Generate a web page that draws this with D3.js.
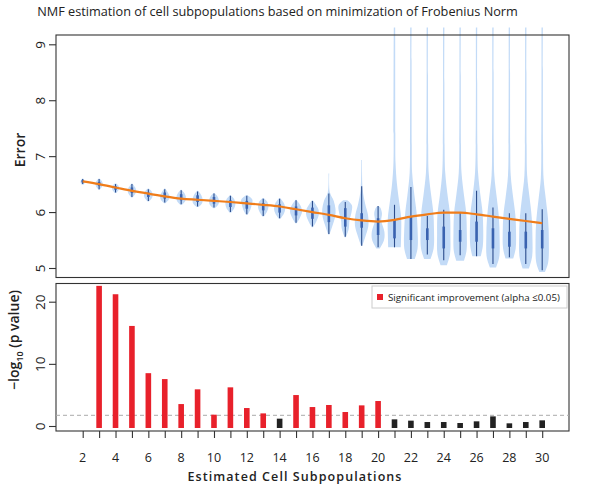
<!DOCTYPE html>
<html>
<head>
<meta charset="utf-8">
<script src="https://cdn.jsdelivr.net/npm/d3@7"></script>
<style>
  html, body { margin: 0; padding: 0; background: #fff; }
  svg { display: block; }
  text { font-family: "Open Sans", "Noto Sans", sans-serif; fill: #222; }
</style>
</head>
<body>
<svg id="chart" width="600" height="494"></svg>
<script>
// ---------------- DATA ----------------
const ks = [2,3,4,5,6,7,8,9,10,11,12,13,14,15,16,17,18,19,20,21,22,23,24,25,26,27,28,29,30];
const xTickLabels = [2,4,6,8,10,12,14,16,18,20,22,24,26,28,30];
const errorTicks = [5,6,7,8,9];
const pTicks = [0,10,20];

// Whisker ranges of error per k
const whiskerLo = [6.50,6.41,6.35,6.27,6.20,6.17,6.14,6.10,6.08,6.00,5.96,5.93,5.89,5.81,5.74,5.61,5.56,5.40,5.37,5.37,5.16,5.24,5.14,5.23,5.21,5.07,5.19,5.07,4.96];
const whiskerHi = [6.59,6.59,6.50,6.50,6.41,6.41,6.39,6.37,6.33,6.29,6.29,6.24,6.24,6.21,6.20,6.33,6.18,6.46,6.11,6.13,6.45,5.93,6.04,5.99,6.38,6.08,5.98,5.98,6.05];
// Interquartile boxes
const boxQ1 = [6.53,6.47,6.40,6.34,6.27,6.24,6.21,6.18,6.15,6.09,6.06,6.03,5.99,5.94,5.88,5.82,5.74,5.72,5.59,5.53,5.50,5.50,5.35,5.47,5.47,5.35,5.38,5.35,5.35];
const boxQ3 = [6.57,6.54,6.46,6.44,6.35,6.35,6.32,6.30,6.27,6.21,6.20,6.16,6.14,6.10,6.08,6.12,6.07,5.98,5.89,5.86,5.92,5.71,5.74,5.68,5.83,5.71,5.65,5.65,5.68];

// Violin outlines: [error value, relative half-width]
const violins = [
  [[6.49,0.10],[6.53,0.30],[6.57,0.25],[6.60,0.05]],
  [[6.40,0.10],[6.46,0.45],[6.52,0.50],[6.57,0.30],[6.60,0.05]],
  [[6.34,0.10],[6.40,0.45],[6.45,0.50],[6.49,0.30],[6.51,0.05]],
  [[6.26,0.10],[6.33,0.50],[6.40,0.60],[6.47,0.30],[6.51,0.05]],
  [[6.19,0.10],[6.26,0.55],[6.32,0.62],[6.38,0.40],[6.42,0.05]],
  [[6.16,0.10],[6.23,0.60],[6.30,0.65],[6.37,0.35],[6.42,0.05]],
  [[6.13,0.10],[6.20,0.60],[6.27,0.68],[6.34,0.45],[6.40,0.05]],
  [[6.09,0.10],[6.16,0.65],[6.24,0.70],[6.32,0.45],[6.38,0.05]],
  [[6.07,0.10],[6.13,0.60],[6.20,0.72],[6.28,0.50],[6.34,0.05]],
  [[5.99,0.10],[6.07,0.55],[6.15,0.72],[6.23,0.55],[6.30,0.05]],
  [[5.95,0.10],[6.04,0.50],[6.13,0.70],[6.22,0.80],[6.30,0.10]],
  [[5.92,0.10],[6.01,0.55],[6.10,0.75],[6.18,0.60],[6.25,0.05]],
  [[5.88,0.10],[5.97,0.60],[6.06,0.80],[6.15,0.65],[6.25,0.05]],
  [[5.80,0.10],[5.90,0.55],[6.00,0.85],[6.10,0.70],[6.22,0.05]],
  [[5.73,0.10],[5.83,0.55],[5.95,0.90],[6.05,0.85],[6.21,0.05]],
  [[5.60,0.10],[5.75,0.50],[5.92,0.90],[6.05,0.95],[6.20,0.70],[6.35,0.15],[6.69,0.05]],
  [[5.55,0.10],[5.70,0.50],[5.85,0.60],[6.00,0.90],[6.12,0.95],[6.21,0.30]],
  [[5.40,0.10],[5.55,0.50],[5.75,0.95],[5.95,0.90],[6.15,0.50],[6.40,0.15],[6.93,0.05]],
  [[5.35,0.25],[5.50,0.85],[5.65,0.90],[5.85,0.45],[5.98,0.55],[6.08,0.30],[6.11,0.05]],
  [[5.37,0.90],[5.60,0.95],[5.90,0.95],[6.20,0.65],[6.50,0.35],[6.88,0.15],[7.40,0.12],[9.30,0.10]],
  [[5.16,0.55],[5.35,0.95],[5.70,0.95],[6.00,0.80],[6.30,0.50],[6.70,0.18],[7.20,0.12],[9.30,0.10]],
  [[5.16,0.45],[5.35,0.90],[5.70,0.95],[6.00,0.85],[6.30,0.55],[6.70,0.20],[7.20,0.12],[9.30,0.10]],
  [[5.05,0.45],[5.25,0.90],[5.60,0.95],[5.95,0.90],[6.30,0.55],[6.70,0.22],[7.20,0.12],[9.30,0.10]],
  [[5.13,0.55],[5.30,0.90],[5.65,0.95],[6.00,0.85],[6.30,0.55],[6.70,0.20],[7.20,0.12],[9.30,0.10]],
  [[5.21,0.60],[5.40,0.90],[5.70,0.95],[6.00,0.85],[6.30,0.55],[6.70,0.22],[7.20,0.12],[9.30,0.10]],
  [[5.01,0.45],[5.20,0.90],[5.55,0.95],[5.90,0.85],[6.25,0.55],[6.65,0.20],[7.20,0.12],[9.30,0.10]],
  [[5.17,0.55],[5.35,0.90],[5.65,0.95],[5.95,0.85],[6.25,0.55],[6.65,0.20],[7.20,0.12],[9.30,0.10]],
  [[4.99,0.45],[5.20,0.90],[5.55,0.95],[5.90,0.85],[6.25,0.55],[6.65,0.20],[7.20,0.12],[9.30,0.10]],
  [[4.93,0.40],[5.10,0.85],[5.50,0.95],[5.85,0.85],[6.20,0.55],[6.60,0.20],[7.20,0.12],[9.30,0.10]]
];

// Smoothed trend of error
const trend = [6.55,6.50,6.44,6.38,6.33,6.28,6.24,6.22,6.20,6.18,6.155,6.13,6.10,6.05,6.00,5.95,5.89,5.85,5.83,5.86,5.92,5.96,5.99,5.99,5.96,5.92,5.88,5.84,5.80];

// -log10(p value) per k (k = 3..30)
const barKs = [3,4,5,6,7,8,9,10,11,12,13,14,15,16,17,18,19,20,21,22,23,24,25,26,27,28,29,30];
const negLogP = [22.55,21.2,16.1,8.5,7.55,3.53,5.9,1.82,6.22,2.89,2.03,1.18,4.98,3.05,3.38,2.25,3.32,4.02,1.07,0.86,0.64,0.64,0.48,0.75,1.55,0.43,0.64,0.91];
const significant = [true,true,true,true,true,true,true,true,true,true,true,false,true,true,true,true,true,true,false,false,false,false,false,false,false,false,false,false];
const threshold = 1.72;

const titleText = "NMF estimation of cell subpopulations based on minimization of Frobenius Norm";
const xTitle = "Estimated Cell Subpopulations";
const legendText = "Significant improvement (alpha \u22640.05)";

// ---------------- LAYOUT ----------------
const svg = d3.select("#chart");
const L = 56, R = 569;
const top1 = 35, bot1 = 277.5;
const top2 = 283.5, bot2 = 431;

const x = d3.scaleLinear().domain([2, 30]).range([82.7, 542.2]);
const yE = d3.scaleLinear().domain([5, 9]).range([268, 44.3]);
const yP = d3.scaleLinear().domain([0, 20]).range([426, 301.7]);
const wScale = d3.scaleLinear().domain([0, 1]).range([0, 7]);

const colViolin = "#c3dbf7";
const colWhisker = "#2b4c8c";
const colBox = "#3a63b0";
const colOrange = "#f07d1a";
const colRed = "#e8212b";

function fitText(sel, width) {
  const n = sel.node();
  const fs = parseFloat(sel.attr("font-size"));
  const w = n.getComputedTextLength();
  if (w > 0) sel.attr("font-size", (fs * width / w).toFixed(2));
}
function fitSpacing(sel, width) {
  const n = sel.node();
  const w = n.getComputedTextLength();
  const c = sel.text().length;
  if (w > 0 && c > 1) sel.attr("letter-spacing", ((width - w) / (c - 1)).toFixed(3));
}

// title
const t = svg.append("text").attr("x", 277.5).attr("y", 15.5).attr("text-anchor", "middle")
  .attr("font-size", 13).text(titleText);
fitText(t, 481);

// ----- Top panel: violins -----
const gV = svg.append("g");
const area = d3.area().curve(d3.curveCatmullRom.alpha(0.5))
  .y(d => yE(d[0]));

ks.forEach((k, i) => {
  const prof = violins[i];
  const cx = x(k);
  gV.append("path")
    .datum(prof)
    .attr("d", area.x0(d => cx - wScale(d[1])).x1(d => cx + wScale(d[1])))
    .attr("fill", colViolin).attr("stroke", "none");
  gV.append("line").attr("x1", cx).attr("x2", cx)
    .attr("y1", yE(whiskerLo[i])).attr("y2", yE(whiskerHi[i]))
    .attr("stroke", colWhisker).attr("stroke-width", 1.1);
  gV.append("line").attr("x1", cx).attr("x2", cx)
    .attr("y1", yE(boxQ1[i])).attr("y2", yE(boxQ3[i]))
    .attr("stroke", colBox).attr("stroke-width", 2.6);
});

// trend line
svg.append("path")
  .datum(ks.map((k, i) => [k, trend[i]]))
  .attr("d", d3.line().curve(d3.curveMonotoneX).x(d => x(d[0])).y(d => yE(d[1])))
  .attr("fill", "none").attr("stroke", colOrange).attr("stroke-width", 2.2);

// frames
svg.append("rect").attr("x", L).attr("y", top1).attr("width", R - L).attr("height", bot1 - top1)
  .attr("fill", "none").attr("stroke", "#333").attr("stroke-width", 1.1);
svg.append("rect").attr("x", L).attr("y", top2).attr("width", R - L).attr("height", bot2 - top2)
  .attr("fill", "none").attr("stroke", "#333").attr("stroke-width", 1.1);

// y axes
function yAxis(scale, ticks) {
  const g = svg.append("g").attr("transform", `translate(${L},0)`);
  g.call(d3.axisLeft(scale).tickValues(ticks).tickSize(7).tickPadding(0).tickFormat(d3.format("d")));
  g.select(".domain").remove();
  g.selectAll(".tick line").attr("stroke", "#333").attr("stroke-width", 1.1);
  g.selectAll(".tick text").remove();
  g.selectAll(".tick").append("text")
    .attr("transform", "translate(-16,0) rotate(-90)")
    .attr("text-anchor", "middle").attr("dy", "0.35em")
    .attr("font-size", 13.5).attr("fill", "#333")
    .text(d => d);
  return g;
}
yAxis(yE, errorTicks);
yAxis(yP, pTicks);

// ----- Bottom panel -----
svg.append("line").attr("x1", L).attr("x2", R)
  .attr("y1", yP(threshold)).attr("y2", yP(threshold))
  .attr("stroke", "#aaa").attr("stroke-dasharray", "4,3").attr("stroke-width", 1);

svg.append("g").selectAll("rect").data(barKs).join("rect")
  .attr("x", d => x(d) - 2.8)
  .attr("width", 5.6)
  .attr("y", (d, i) => yP(negLogP[i]))
  .attr("height", (d, i) => yP(0) - yP(negLogP[i]) + 2)
  .attr("fill", (d, i) => significant[i] ? colRed : "#222");

// x axis
const gx = svg.append("g").attr("transform", `translate(0,${bot2})`);
gx.call(d3.axisBottom(x).tickValues(ks).tickSize(7).tickFormat(""));
gx.select(".domain").remove();
gx.selectAll(".tick line").attr("stroke", "#333").attr("stroke-width", 1.1);
svg.append("g").selectAll("text").data(xTickLabels).join("text")
  .attr("x", d => x(d)).attr("y", 462).attr("text-anchor", "middle")
  .attr("font-size", 12.5).attr("fill", "#333").text(d => d);

const xt = svg.append("text").attr("x", 295).attr("y", 481).attr("text-anchor", "middle")
  .attr("font-size", 12.5).attr("font-weight", 600).text(xTitle);
fitSpacing(xt, 214);

// y titles
svg.append("text").attr("transform", "translate(25,150) rotate(-90)")
  .attr("text-anchor", "middle").attr("font-size", 14).attr("font-weight", 600).text("Error");

const yl = svg.append("text").attr("transform", "translate(19,340) rotate(-90)")
  .attr("text-anchor", "middle").attr("font-size", 14).attr("font-weight", 600);
yl.append("tspan").text("\u2212log");
yl.append("tspan").attr("font-size", 9).attr("dy", 4).text("10");
yl.append("tspan").attr("dy", -4).text(" (p value)");

// legend
svg.append("rect").attr("x", 372).attr("y", 286).attr("width", 195).attr("height", 22)
  .attr("fill", "#fff").attr("stroke", "#ccc").attr("stroke-width", 1);
svg.append("rect").attr("x", 377).attr("y", 294).attr("width", 6).attr("height", 6).attr("fill", colRed);
const lt = svg.append("text").attr("x", 388).attr("y", 301).attr("font-size", 10.5).attr("fill", "#222").text(legendText);
fitText(lt, 172);
</script>
</body>
</html>
